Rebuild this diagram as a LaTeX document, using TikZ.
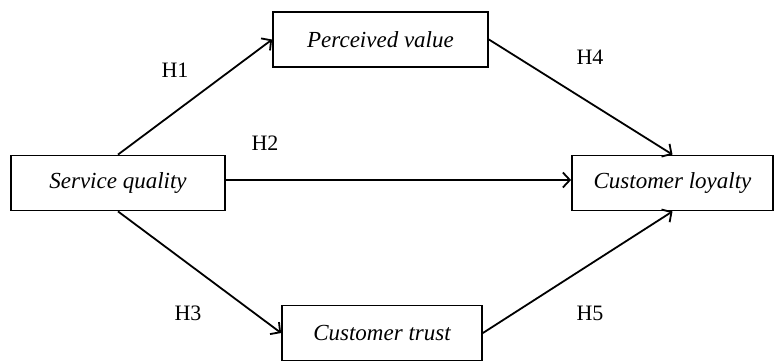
\documentclass[tikz,border=0pt]{standalone}
\usepackage{fontspec}
\setmainfont{Liberation Serif}
\usetikzlibrary{positioning}
\usetikzlibrary{arrows.meta}

\begin{document}
\begin{tikzpicture}[x=1pt, y=-1pt, line width=1.8pt, >={Straight Barb[length=7pt,width=15pt,line width=1.8pt]},
  common/.style={draw, fill=white, inner sep=0pt, font=\fontsize{23}{27}\selectfont\itshape, minimum height=55pt}]
\tikzstyle{texto}=[inner sep=0pt, font=\fontsize{22}{26}\selectfont]

\useasboundingbox (0,0) rectangle (775,362);

\node (SQ) [common, minimum width=214pt] at (118, 183)   {Service quality};
\node (PV) [common, minimum width=215pt] at (380.5, 39.5) {Perceived value};
\node (CL) [common, minimum width=201pt] at (672.5, 183) {Customer loyalty};
\node (CT) [common, minimum width=200pt] at (382, 333)   {Customer trust};

% flechas
\draw [->] (SQ.north) -- (PV.west);
\draw [->] ([yshift=3pt]SQ.east) -- ([yshift=3pt]CL.west);
\draw [->] (SQ.south) -- (CT.west);
\draw [->] (PV.east) -- (CL.north);
\draw [->] (CT.east) -- (CL.south);

% tags
\node (H1) [texto] at (175, 70)  {H1};
\node (H2) [texto] at (265, 143) {H2};
\node (H3) [texto] at (188, 313) {H3};
\node (H4) [texto] at (590, 57)  {H4};
\node (H5) [texto] at (590, 313) {H5};
\end{tikzpicture}
\end{document}
